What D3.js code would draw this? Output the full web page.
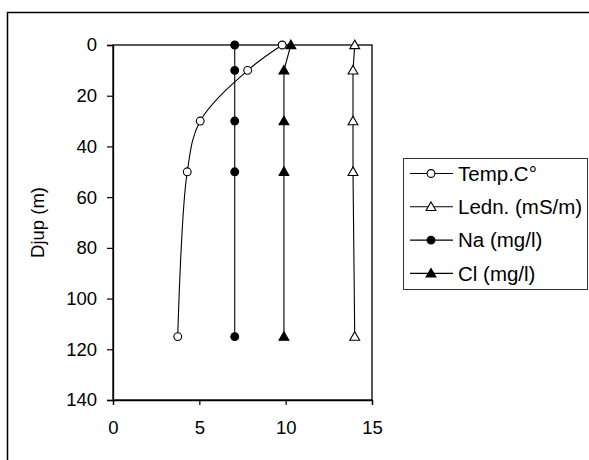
<!DOCTYPE html>
<html>
<head>
<meta charset="utf-8">
<script src="https://cdn.jsdelivr.net/npm/d3@7"></script>
<style>
  body { margin: 0; background: #fff; }
  svg { font-family: Arial, "Liberation Sans", sans-serif; }
</style>
</head>
<body>
<script>
// depths shared by all series (m)
var depths = [0, 10, 30, 50, 115];
var tempValues = [9.8, 7.8, 5.05, 4.3, 3.75];
var lednValues = [14.0, 13.9, 13.9, 13.9, 14.0];
var naValues = [7.05, 7.05, 7.05, 7.05, 7.05];
var clValues = [10.3, 9.9, 9.9, 9.9, 9.9];
var seriesNames = ["Temp.C\u00b0", "Ledn. (mS/m)", "Na (mg/l)", "Cl (mg/l)"];
var xTicks = [0, 5, 10, 15];
var yTicks = [0, 20, 40, 60, 80, 100, 120, 140];

(function(){
    var W = 589, H = 460;
    var svg = d3.select("body").append("svg")
        .attr("width", W)
        .attr("height", H);

    // outer chart frame
    svg.append("rect")
        .attr("x", 7.5).attr("y", 12.5)
        .attr("width", 620).attr("height", 480)
        .attr("fill", "none")
        .attr("stroke", "#000")
        .attr("stroke-width", 1.5);

    var pLeft = 113, pRight = 372, pTop = 45, pBottom = 400;
    var x = d3.scaleLinear().domain([0, 15]).range([pLeft, pRight]);
    var y = d3.scaleLinear().domain([0, 140]).range([pTop, pBottom]);

    // plot frame
    svg.append("rect")
        .attr("x", pLeft).attr("y", pTop)
        .attr("width", pRight - pLeft).attr("height", pBottom - pTop)
        .attr("fill", "none")
        .attr("stroke", "#000")
        .attr("stroke-width", 1.3);

    var yAxis = svg.append("g")
        .attr("transform", "translate(" + pLeft + ",0)")
        .call(d3.axisLeft(y).tickValues(yTicks).tickSize(6).tickPadding(10));
    var xAxis = svg.append("g")
        .attr("transform", "translate(0," + pBottom + ")")
        .call(d3.axisBottom(x).tickValues(xTicks).tickSize(5).tickPadding(16));

    [yAxis, xAxis].forEach(function(a){
        a.attr("font-size", 18.5).attr("font-family", "Arial, 'Liberation Sans', sans-serif");
        a.select(".domain").attr("stroke", "#000").attr("stroke-width", 1.3);
        a.selectAll(".tick line").attr("stroke", "#000").attr("stroke-width", 1.2);
        a.selectAll(".tick text").attr("fill", "#000");
    });

    svg.append("text")
        .attr("transform", "translate(44," + ((pTop + pBottom) / 2) + ") rotate(-90)")
        .attr("text-anchor", "middle")
        .attr("font-size", 18.5)
        .text("Djup (m)");

    var series = [
        { name: seriesNames[0], values: tempValues, marker: "circle", fill: "#fff", smooth: true },
        { name: seriesNames[1], values: lednValues, marker: "triangle", fill: "#fff", smooth: false },
        { name: seriesNames[2], values: naValues, marker: "circle", fill: "#000", smooth: false },
        { name: seriesNames[3], values: clValues, marker: "triangle", fill: "#000", smooth: false }
    ];

    var triSym = d3.symbol().type(d3.symbolTriangle).size(42);

    function drawMarker(g, s, cx, cy) {
        if (s.marker === "circle") {
            g.append("circle")
                .attr("cx", cx).attr("cy", cy).attr("r", 3.9)
                .attr("fill", s.fill)
                .attr("stroke", "#000")
                .attr("stroke-width", 1.1);
        } else {
            g.append("path")
                .attr("d", triSym())
                .attr("transform", "translate(" + cx + "," + (cy + 0.8) + ")")
                .attr("fill", s.fill)
                .attr("stroke", "#000")
                .attr("stroke-width", 1.1);
        }
    }

    series.forEach(function(s){
        var pts = depths.map(function(d, i){ return [s.values[i], d]; });
        var line = d3.line()
            .x(function(p){ return x(p[0]); })
            .y(function(p){ return y(p[1]); })
            .curve(s.smooth ? d3.curveCatmullRom.alpha(0.5) : d3.curveLinear);
        var g = svg.append("g");
        g.append("path")
            .datum(pts)
            .attr("d", line)
            .attr("fill", "none")
            .attr("stroke", "#000")
            .attr("stroke-width", 1.1);
        pts.forEach(function(p){
            drawMarker(g, s, x(p[0]), y(p[1]));
        });
    });

    // legend
    var lx = 403.5, ly = 158.5, lw = 184, lh = 131;
    var legend = svg.append("g");
    legend.append("rect")
        .attr("x", lx).attr("y", ly)
        .attr("width", lw).attr("height", lh)
        .attr("fill", "#fff")
        .attr("stroke", "#333")
        .attr("stroke-width", 1);

    series.forEach(function(s, i){
        var ry = 173.5 + i * 33.3;
        legend.append("line")
            .attr("x1", 410).attr("x2", 453)
            .attr("y1", ry).attr("y2", ry)
            .attr("stroke", "#000")
            .attr("stroke-width", 1.1);
        drawMarker(legend, s, 431, ry);
        legend.append("text")
            .attr("x", 458)
            .attr("y", ry)
            .attr("dy", "0.36em")
            .attr("font-size", 20.5)
            .text(s.name);
    });
})();
</script>
</body>
</html>
